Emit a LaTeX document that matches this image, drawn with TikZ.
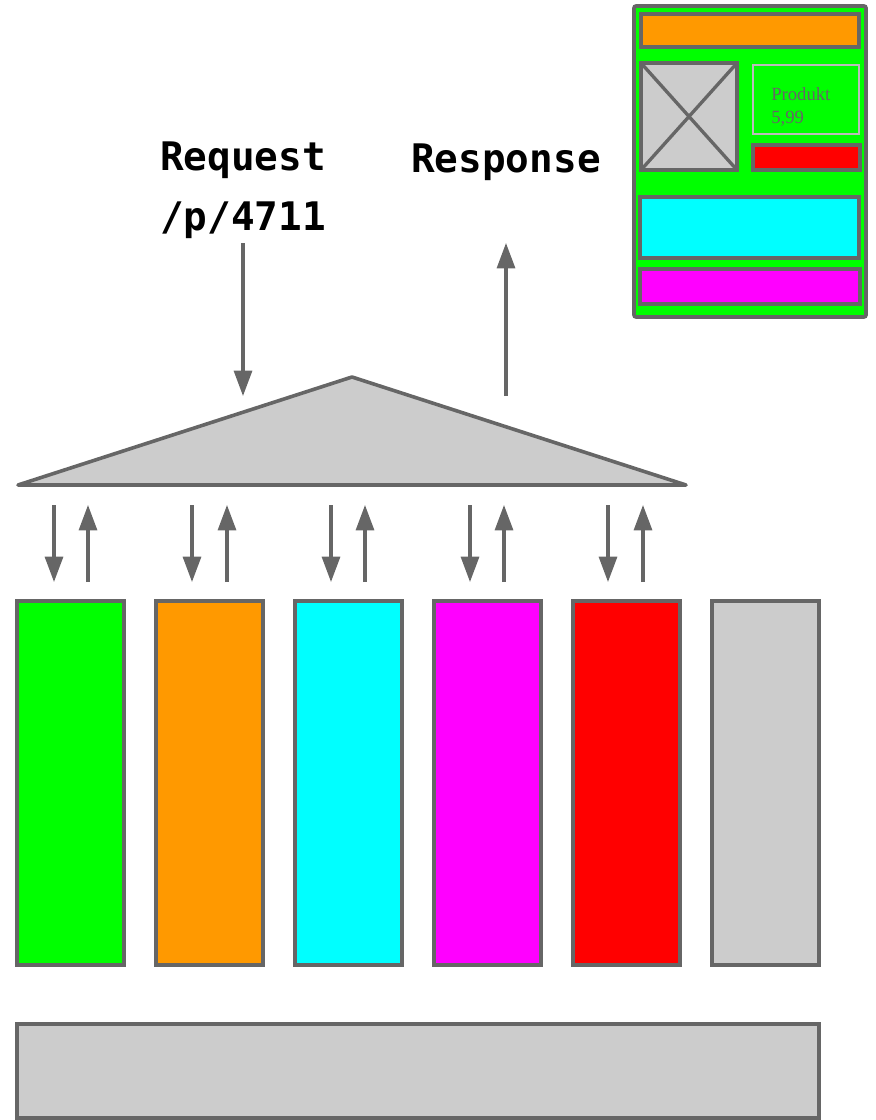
\documentclass[tikz,border=0pt]{standalone}
\usepackage{fontspec}
\newfontfamily\monob{DejaVu Sans Mono}
\newfontfamily\serifp{Liberation Serif}
\usetikzlibrary{arrows.meta}
\definecolor{edge}{HTML}{666666}
\definecolor{lgrey}{HTML}{CCCCCC}
\definecolor{lborder}{HTML}{BBBBBB}
\definecolor{cgreen}{HTML}{00FF00}
\definecolor{corange}{HTML}{FF9900}
\definecolor{ccyan}{HTML}{00FFFF}
\definecolor{cmag}{HTML}{FF00FF}
\definecolor{cred}{HTML}{FF0000}
\begin{document}
\begin{tikzpicture}[x=0.75pt,y=-0.75pt,
  box/.style={draw=edge, line width=2.7pt, rectangle, inner sep=0pt, outer sep=0pt},
  sz/.style 2 args={minimum width=#1*0.75pt, minimum height=#2*0.75pt},
  arr/.style={draw=edge, line width=2.3pt, -{Triangle[width=13.5pt,length=19pt]}},
  label/.style={font=\monob\bfseries\fontsize{29.5}{45}\selectfont, inner sep=0pt}]
\useasboundingbox (0,0) rectangle (875,1120);

% mockup
\node[box, fill=cgreen, sz={232}{311}, rounded corners=1.5pt] (page) at (750,161.5) {};
\node[box, fill=corange, sz={218}{33}] (head) at (750,30.5) {};
\node[box, fill=lgrey, sz={96}{107}] (img) at (689,116.5) {};
\draw[edge, line width=2.5pt] (img.north west) -- (img.south east) (img.north east) -- (img.south west);
\node[draw=lborder, line width=1.1pt, rectangle, inner sep=0pt, sz={106}{69}] (info) at (806,99.5) {};
\node[font=\serifp\fontsize{14}{17}\selectfont, text=edge, align=left, anchor=north west, inner sep=0pt] (ptext) at (771,87.5) {Produkt\\5,99};
\node[box, fill=cred, sz={107}{25}] (buy) at (806.5,157.5) {};
\node[box, fill=ccyan, sz={219}{61}] (desc) at (749.5,227.5) {};
\node[box, fill=cmag, sz={220}{35}] (foot) at (750,286.5) {};

% labels
\node[label, align=left] (req) at (243,190) {Request\\/p/4711};
\node[label, anchor=base] (resp) at (506,172) {Response};

% request / response arrows
\coordinate (reqs) at (243,243);
\coordinate (reqe) at (243,396);
\coordinate (ress) at (506,396);
\coordinate (rese) at (506,243);
\draw[arr] (reqs) -- (reqe);
\draw[arr] (ress) -- (rese);

% triangle
\draw[draw=edge, fill=lgrey, line width=2.7pt, line join=round]
  (18,485) coordinate (tl) -- (352,377) coordinate (tt) -- (686,485) coordinate (tr) -- cycle;

% columns
\node[box, fill=cgreen, sz={107}{364}] (c1) at (70.5,783) {};
\node[box, fill=corange, sz={107}{364}] (c2) at (209.5,783) {};
\node[box, fill=ccyan, sz={107}{364}] (c3) at (348.5,783) {};
\node[box, fill=cmag, sz={107}{364}] (c4) at (487.5,783) {};
\node[box, fill=cred, sz={107}{364}] (c5) at (626.5,783) {};
\node[box, fill=lgrey, sz={107}{364}] (c6) at (765.5,783) {};

% small arrows
\foreach \d/\u [count=\i] in {54/88, 192/227, 331/365, 470/504, 608/643} {
  \coordinate (d\i s) at (\d,505);
  \coordinate (d\i e) at (\d,582);
  \coordinate (u\i s) at (\u,582);
  \coordinate (u\i e) at (\u,505);
  \draw[arr] (d\i s) -- (d\i e);
  \draw[arr] (u\i s) -- (u\i e);
}

% bottom bar
\node[box, fill=lgrey, sz={802}{94}] (base) at (418,1071) {};
\end{tikzpicture}
\end{document}
